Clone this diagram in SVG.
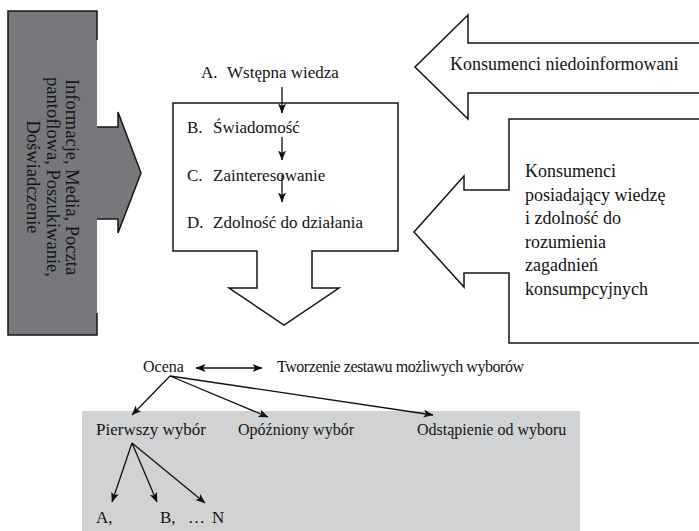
<svg xmlns="http://www.w3.org/2000/svg" width="699" height="531" viewBox="0 0 699 531">
  <defs>
    <marker id="arrow" viewBox="0 0 10 8" refX="9.5" refY="4" markerWidth="10" markerHeight="8" markerUnits="userSpaceOnUse" orient="auto-start-reverse">
      <path d="M0,0 L10,4 L0,8 L2.5,4 Z" fill="#111"/>
    </marker>
  </defs>
  <style>
    text { font-family: "Liberation Serif", "Times New Roman", serif; fill: #141414; }
    .outline { fill: none; stroke: #161616; stroke-width: 1.5; stroke-linejoin: miter; }
    .shape { fill: #ffffff; stroke: #161616; stroke-width: 1.5; }
    .link { fill: none; stroke: #111; stroke-width: 1.3; marker-end: url(#arrow); }
    .t17 { font-size: 17px; }
    .t18 { font-size: 18px; }
    .t16 { font-size: 16px; }
  </style>

  <rect width="699" height="531" fill="#ffffff"/>

  <!-- information sources: grey callout pointing right -->
  <g id="sources">
    <polygon points="8,11 97,11 97,127 118,127 118,112 141,173 118,233 118,219 97,219 97,335 8,335" fill="#77787c"/>
    <path class="outline" d="M97,40 V11 H8 V335 H97 V313"/>
    <path class="outline" d="M97,127 H118 V112 L141,173 L118,233 V219 H97"/>
    <g transform="translate(52,177) rotate(90)" font-size="18.5">
      <text text-anchor="middle" x="0" y="-14">Informacje, Media, Poczta</text>
      <text text-anchor="middle" x="0" y="5.5">pantoflowa, Poszukiwanie,</text>
      <text text-anchor="middle" x="0" y="25">Doświadczenie</text>
    </g>
  </g>

  <!-- knowledge stages: box with downward arrow -->
  <g id="stages">
    <polygon class="shape" points="173,103 398,103 398,251 312,251 312,288 339,288 284,325 229,288 257,288 257,251 173,251"/>
    <text class="t17" y="78"><tspan x="201">A.</tspan><tspan x="227">Wstępna wiedza</tspan></text>
    <text class="t17" y="133"><tspan x="187">B.</tspan><tspan x="213">Świadomość</tspan></text>
    <text class="t17" y="181"><tspan x="187">C.</tspan><tspan x="213">Zainteresowanie</tspan></text>
    <text class="t17" y="228"><tspan x="187">D.</tspan><tspan x="213">Zdolność do działania</tspan></text>
  </g>

  <!-- uninformed consumers: arrow pointing left -->
  <g id="uninformed">
    <path class="shape" d="M699,43 H468 V15 L415,67 L468,119 V93 H699"/>
    <text class="t18" x="450" y="70">Konsumenci niedoinformowani</text>
  </g>

  <!-- informed consumers: callout pointing left -->
  <g id="informed">
    <path class="shape" d="M699,119 H509 V190 H464 V176 L414,232 L464,287 V273 H509 V343 H699"/>
    <text class="t18" x="525" y="177">Konsumenci</text>
    <text class="t18" x="525" y="200.5">posiadający wiedzę</text>
    <text class="t18" x="525" y="224">i zdolność do</text>
    <text class="t18" x="525" y="247.5">rozumienia</text>
    <text class="t18" x="525" y="271">zagadnień</text>
    <text class="t18" x="525" y="294.5">konsumpcyjnych</text>
  </g>

  <!-- choice outcomes panel -->
  <rect id="outcome-panel" x="82" y="411" width="498" height="120" fill="#d0d2d4"/>

  <g id="evaluation">
    <text class="t16" x="143" y="372">Ocena</text>
  </g>
  <g id="choice-set">
    <text class="t16" x="277" y="372" letter-spacing="-0.45">Tworzenie zestawu możliwych wyborów</text>
  </g>
  <g id="first-choice">
    <text class="t17" x="96" y="435">Pierwszy wybór</text>
  </g>
  <g id="delayed-choice">
    <text class="t16" x="238" y="435">Opóźniony wybór</text>
  </g>
  <g id="withdrawal">
    <text class="t16" x="417" y="435">Odstąpienie od wyboru</text>
  </g>
  <g id="options">
    <text class="t17" x="96" y="523">A,</text>
    <text class="t17" y="523"><tspan x="160">B,</tspan><tspan x="188">…</tspan><tspan x="212">N</tspan></text>
  </g>

  <!-- connectors -->
  <g id="connectors">
    <line class="link" x1="282" y1="87" x2="282" y2="113"/>
    <line class="link" x1="282" y1="137" x2="282" y2="160"/>
    <line class="link" x1="282" y1="175" x2="282" y2="202"/>
    <line class="link" x1="196" y1="368" x2="262" y2="368" style="marker-start:url(#arrow)"/>
    <line class="link" x1="170" y1="376" x2="132" y2="415"/>
    <line class="link" x1="170" y1="376" x2="268" y2="417"/>
    <line class="link" x1="170" y1="376" x2="433" y2="415"/>
    <line class="link" x1="132" y1="443" x2="112" y2="502"/>
    <line class="link" x1="132" y1="443" x2="157" y2="502"/>
    <line class="link" x1="132" y1="443" x2="205" y2="503"/>
  </g>
</svg>
